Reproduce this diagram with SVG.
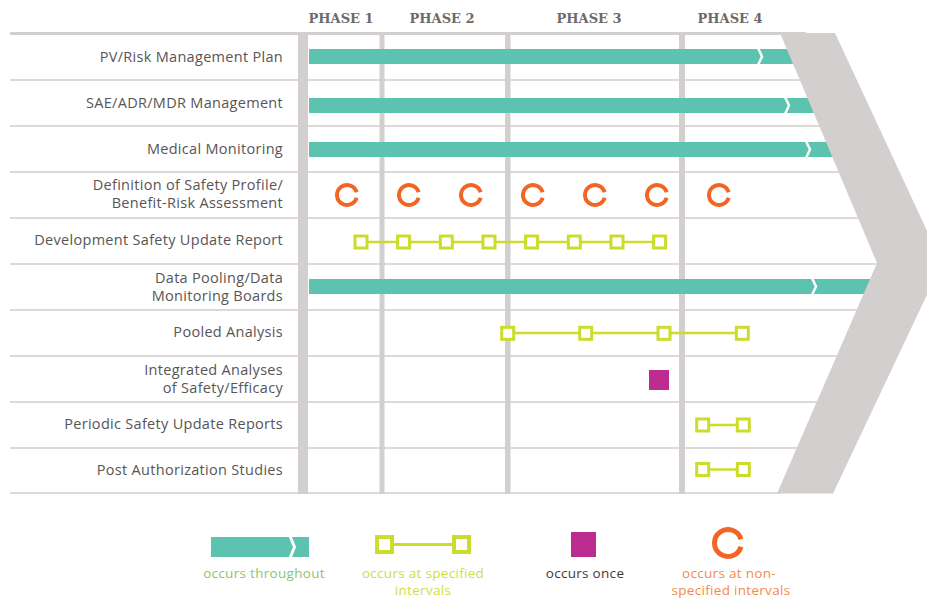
<svg xmlns="http://www.w3.org/2000/svg" xmlns:xlink="http://www.w3.org/1999/xlink" width="927" height="600" viewBox="0 0 927 600">
<style>
.bg{fill:#ffffff}
.hline{stroke:#dcd9d8;stroke-width:2}
.vline{fill:#d3cfce}
.phase{font-family:"DejaVu Serif",serif;font-weight:bold;font-size:13px;fill:#6d6a6a;text-anchor:middle}
.lbl{font-family:"Open Sans","Liberation Sans",sans-serif;font-size:14.5px;letter-spacing:0.3px;fill:#585556;text-anchor:end}
.bar{fill:#5cc3b0}
.notch{fill:none;stroke:#ffffff;stroke-width:2.5}
.sq{fill:#ffffff;stroke:#cbdc2a;stroke-width:3}
.conn{stroke:#cbdc2a;stroke-width:2.5}
.ring{fill:none;stroke:#f26522;stroke-width:4}
.once{fill:#bc2c8e}
.chev{fill:#d3cfce}
.leg{font-family:"Open Sans","Liberation Sans",sans-serif;font-size:13.5px;letter-spacing:0.3px;text-anchor:middle}
</style>
<defs>
<path id="ring" d="M9.61 2.76 A10 10 0 1 1 9.61 -2.76"/>
<rect id="sq" x="-6" y="-6" width="12" height="12"/>
</defs>
<rect class="bg" x="0" y="0" width="927" height="600"/>

<g id="grid">
<line class="hline" x1="10" y1="33.5" x2="806" y2="33.5" style="stroke-width:3;stroke:#d3cfce"/>
<line class="hline" x1="10" y1="80" x2="804" y2="80"/>
<line class="hline" x1="10" y1="126" x2="823" y2="126"/>
<line class="hline" x1="10" y1="172" x2="843" y2="172"/>
<line class="hline" x1="10" y1="218" x2="862" y2="218"/>
<line class="hline" x1="10" y1="264" x2="880" y2="264"/>
<line class="hline" x1="10" y1="310" x2="861" y2="310"/>
<line class="hline" x1="10" y1="356" x2="841" y2="356"/>
<line class="hline" x1="10" y1="402" x2="821" y2="402"/>
<line class="hline" x1="10" y1="448" x2="801" y2="448"/>
<line class="hline" x1="10" y1="493" x2="781" y2="493"/>
<rect class="vline" x="298" y="33" width="10" height="461"/>
<rect class="vline" x="379.5" y="33" width="5" height="461"/>
<rect class="vline" x="505" y="33" width="5.5" height="461"/>
<rect class="vline" x="679" y="33" width="6" height="461"/>
</g>

<g id="phases">
<text class="phase" x="341" y="23">PHASE 1</text>
<text class="phase" x="442" y="23">PHASE 2</text>
<text class="phase" x="589" y="23">PHASE 3</text>
<text class="phase" x="730" y="23">PHASE 4</text>
</g>

<g id="connectors">
<line class="conn" x1="361" y1="242" x2="660" y2="242"/>
<line class="conn" x1="508" y1="333" x2="742" y2="333"/>
<line class="conn" x1="703" y1="425" x2="743" y2="425"/>
<line class="conn" x1="703" y1="469.5" x2="743" y2="469.5"/>
<line class="conn" x1="384" y1="544.5" x2="462" y2="544.5" style="stroke-width:3"/>
</g>

<g id="row1">
<text class="lbl" x="283" y="62">PV/Risk Management Plan</text>
<rect class="bar" x="309" y="49" width="500" height="15"/>
<polyline class="notch" points="758,48 762,56.5 758,65"/>
</g>
<g id="row2">
<text class="lbl" x="283" y="108">SAE/ADR/MDR Management</text>
<rect class="bar" x="309" y="98" width="520" height="15"/>
<polyline class="notch" points="785,97 789,105.5 785,114"/>
</g>
<g id="row3">
<text class="lbl" x="283" y="154">Medical Monitoring</text>
<rect class="bar" x="309" y="142" width="540" height="15"/>
<polyline class="notch" points="806,141 810,149.5 806,158"/>
</g>
<g id="row4">
<text class="lbl" x="283" y="190">Definition of Safety Profile/</text>
<text class="lbl" x="283" y="208">Benefit-Risk Assessment</text>
<use xlink:href="#ring" class="ring" x="347" y="195"/>
<use xlink:href="#ring" class="ring" x="409" y="195"/>
<use xlink:href="#ring" class="ring" x="471" y="195"/>
<use xlink:href="#ring" class="ring" x="533" y="195"/>
<use xlink:href="#ring" class="ring" x="595" y="195"/>
<use xlink:href="#ring" class="ring" x="657" y="195"/>
<use xlink:href="#ring" class="ring" x="719" y="195"/>
</g>
<g id="row5">
<text class="lbl" x="283" y="245">Development Safety Update Report</text>
<use xlink:href="#sq" class="sq" x="361" y="242"/>
<use xlink:href="#sq" class="sq" x="403.6" y="242"/>
<use xlink:href="#sq" class="sq" x="446.3" y="242"/>
<use xlink:href="#sq" class="sq" x="489" y="242"/>
<use xlink:href="#sq" class="sq" x="531.6" y="242"/>
<use xlink:href="#sq" class="sq" x="574.3" y="242"/>
<use xlink:href="#sq" class="sq" x="617" y="242"/>
<use xlink:href="#sq" class="sq" x="659.6" y="242"/>
</g>
<g id="row6">
<text class="lbl" x="283" y="283">Data Pooling/Data</text>
<text class="lbl" x="283" y="301">Monitoring Boards</text>
<rect class="bar" x="309" y="279" width="580" height="15"/>
<polyline class="notch" points="812,278 816,286.5 812,295"/>
</g>
<g id="row7">
<text class="lbl" x="283" y="337">Pooled Analysis</text>
<use xlink:href="#sq" class="sq" x="507.7" y="333.3"/>
<use xlink:href="#sq" class="sq" x="585.7" y="333.3"/>
<use xlink:href="#sq" class="sq" x="664" y="333.3"/>
<use xlink:href="#sq" class="sq" x="742.3" y="333.3"/>
</g>
<g id="row8">
<text class="lbl" x="283" y="375">Integrated Analyses</text>
<text class="lbl" x="283" y="393">of Safety/Efficacy</text>
<rect class="once" x="649" y="370" width="20" height="20"/>
</g>
<g id="row9">
<text class="lbl" x="283" y="429">Periodic Safety Update Reports</text>
<use xlink:href="#sq" class="sq" x="702.7" y="425"/>
<use xlink:href="#sq" class="sq" x="743.3" y="425"/>
</g>
<g id="row10">
<text class="lbl" x="283" y="475">Post Authorization Studies</text>
<use xlink:href="#sq" class="sq" x="702.7" y="469.5"/>
<use xlink:href="#sq" class="sq" x="743.3" y="469.5"/>
</g>

<g id="chevron">
<polygon class="chev" points="780,33 835,33 942,263 833,493.5 777,493.5 877,263"/>
</g>

<g id="legend">
<g id="legend-throughout">
<rect class="bar" x="211" y="537" width="98" height="20"/>
<polyline class="notch" points="290,536 294.5,547 290,558" style="stroke-width:3"/>
<text class="leg" x="264" y="578" fill="#8cc66a">occurs throughout</text>
</g>
<g id="legend-specified">
<rect class="sq" x="377" y="537" width="15" height="15" style="stroke-width:4"/>
<rect class="sq" x="454" y="537" width="15" height="15" style="stroke-width:4"/>
<text class="leg" x="423" y="578" fill="#cfdc45">occurs at specified</text>
<text class="leg" x="423" y="595" fill="#cfdc45">intervals</text>
</g>
<g id="legend-once">
<rect class="once" x="571" y="532" width="25" height="25"/>
<text class="leg" x="585" y="578" fill="#3a3a3a">occurs once</text>
</g>
<g id="legend-nonspecified">
<path d="M740.98 546.72 A13.5 13.5 0 1 1 740.98 539.28" fill="none" stroke="#f26522" stroke-width="5"/>
<text class="leg" x="729" y="578" fill="#f5894c">occurs at non-</text>
<text class="leg" x="731" y="595" fill="#f5894c">specified intervals</text>
</g>
</g>
</svg>
